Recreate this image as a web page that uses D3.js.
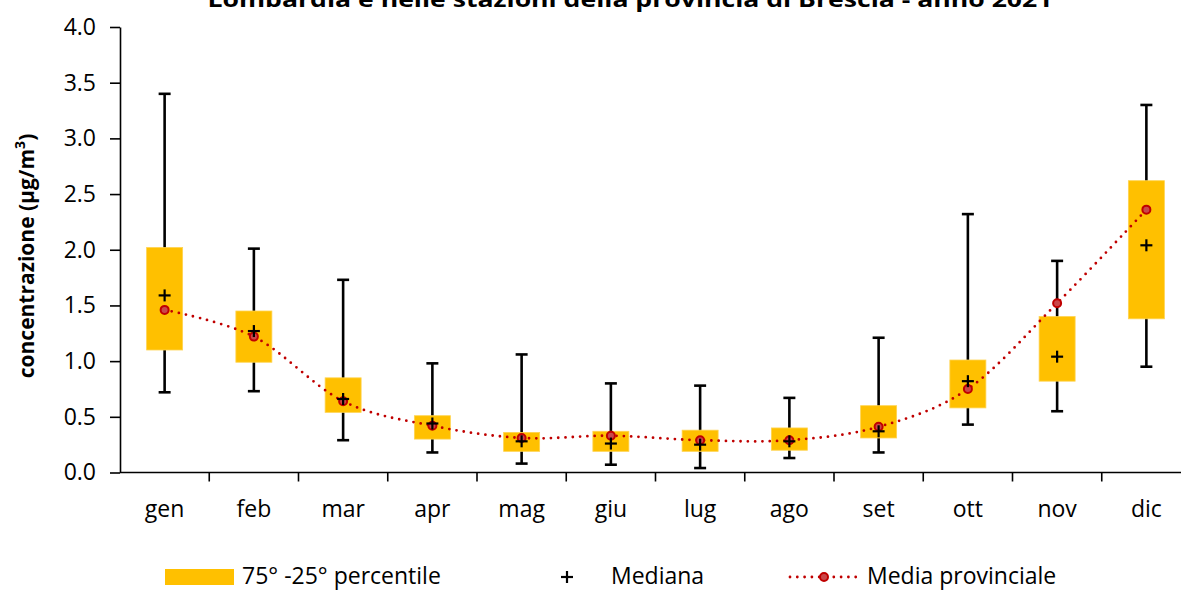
<!DOCTYPE html>
<html>
<head>
<meta charset="utf-8">
<script src="https://cdn.jsdelivr.net/npm/d3@7"></script>
<style>
  html, body { margin: 0; padding: 0; background: #fff; }
  svg { display: block; font-family: "Open Sans", "Noto Sans", sans-serif; }
</style>
</head>
<body>
<svg id="chart" width="1181" height="590"></svg>
<script>
// Monthly statistics of station concentrations (µg/m³)
const months = ["gen","feb","mar","apr","mag","giu","lug","ago","set","ott","nov","dic"];
const whiskerMax = [3.40, 2.01, 1.73, 0.98, 1.06, 0.80, 0.78, 0.67, 1.21, 2.32, 1.90, 3.30];
const pct75      = [2.02, 1.45, 0.85, 0.51, 0.36, 0.37, 0.38, 0.40, 0.60, 1.01, 1.40, 2.62];
const pct25      = [1.10, 0.99, 0.54, 0.30, 0.19, 0.19, 0.19, 0.20, 0.31, 0.58, 0.82, 1.38];
const whiskerMin = [0.72, 0.73, 0.29, 0.18, 0.08, 0.07, 0.04, 0.13, 0.18, 0.43, 0.55, 0.95];
const median     = [1.59, 1.27, 0.66, 0.44, 0.28, 0.26, 0.25, 0.28, 0.37, 0.82, 1.04, 2.04];
const meanProv   = [1.46, 1.22, 0.64, 0.42, 0.31, 0.33, 0.29, 0.29, 0.41, 0.75, 1.52, 2.36];
const yTicks = [0, 0.5, 1.0, 1.5, 2.0, 2.5, 3.0, 3.5, 4.0];

const titleText = "Lombardia e nelle stazioni della provincia di Brescia - anno 2021";
const legendLabels = ["75° -25° percentile", "Mediana", "Media provinciale"];

const BOX = "#FFC000", RED = "#C00000";

const svg = d3.select("#chart");

const x = d3.scaleBand().domain(months).range([120, 1191]).paddingInner(0).paddingOuter(0);
const y = d3.scaleLinear().domain([0, 4]).range([472.5, 27]);
const cx = m => x(m) + x.bandwidth() / 2;

const rows = months.map((m, i) => ({
  m, hi: whiskerMax[i], q3: pct75[i], q1: pct25[i], lo: whiskerMin[i],
  med: median[i], mean: meanProv[i]
}));

// title (second line of a two-line heading, running off the top edge)
svg.append("text")
  .attr("x", 630).attr("y", 7)
  .attr("text-anchor", "middle")
  .attr("font-weight", "bold").attr("font-size", 22)
  .attr("textLength", 845).attr("lengthAdjust", "spacingAndGlyphs")
  .attr("fill", "#000")
  .text(titleText);

// y axis
const yAxis = svg.append("g")
  .attr("transform", "translate(120,0)")
  .call(d3.axisLeft(y).tickValues(yTicks).tickFormat(d3.format(".1f"))
    .tickSize(10).tickSizeOuter(0).tickPadding(14));
yAxis.select(".domain").attr("stroke", "#000").attr("stroke-width", 1.6);
yAxis.selectAll(".tick line").attr("stroke", "#000").attr("stroke-width", 1.6);
yAxis.selectAll(".tick text")
  .attr("font-size", 23).attr("fill", "#000")
  .attr("font-family", "'Open Sans', sans-serif");

// x axis: line, boundary ticks and month labels
const xAxis = svg.append("g").attr("transform", `translate(0,${y(0)})`);
xAxis.append("line")
  .attr("x1", 120).attr("x2", 1191)
  .attr("stroke", "#000").attr("stroke-width", 1.6);
xAxis.selectAll("line.bound")
  .data(months.slice(1).concat(["end"]))
  .join("line").attr("class", "bound")
  .attr("x1", d => d === "end" ? x.range()[1] : x(d))
  .attr("x2", d => d === "end" ? x.range()[1] : x(d))
  .attr("y1", 0).attr("y2", 9)
  .attr("stroke", "#000").attr("stroke-width", 1.6);
xAxis.selectAll("text")
  .data(months).join("text")
  .attr("x", d => cx(d)).attr("y", 44)
  .attr("text-anchor", "middle")
  .attr("font-size", 23).attr("fill", "#000")
  .text(d => d);

// y axis title
const yTitle = svg.append("text")
  .attr("transform", "translate(34,256) rotate(-90)")
  .attr("text-anchor", "middle")
  .attr("font-weight", "bold").attr("font-size", 21)
  .attr("fill", "#000");
yTitle.append("tspan").text("concentrazione (µg/m");
yTitle.append("tspan").attr("baseline-shift", "super").attr("font-size", 14).text("3");
yTitle.append("tspan").text(")");

// whiskers
const boxW = 36, capW = 12;
const g = svg.append("g");
g.selectAll("line.whisker").data(rows).join("line").attr("class", "whisker")
  .attr("x1", d => cx(d.m)).attr("x2", d => cx(d.m))
  .attr("y1", d => y(d.hi)).attr("y2", d => y(d.lo))
  .attr("stroke", "#000").attr("stroke-width", 2.6);
g.selectAll("line.capHi").data(rows).join("line").attr("class", "capHi")
  .attr("x1", d => cx(d.m) - capW / 2).attr("x2", d => cx(d.m) + capW / 2)
  .attr("y1", d => y(d.hi)).attr("y2", d => y(d.hi))
  .attr("stroke", "#000").attr("stroke-width", 2.6);
g.selectAll("line.capLo").data(rows).join("line").attr("class", "capLo")
  .attr("x1", d => cx(d.m) - capW / 2).attr("x2", d => cx(d.m) + capW / 2)
  .attr("y1", d => y(d.lo)).attr("y2", d => y(d.lo))
  .attr("stroke", "#000").attr("stroke-width", 2.6);

// interquartile boxes
g.selectAll("rect.box").data(rows).join("rect").attr("class", "box")
  .attr("x", d => cx(d.m) - boxW / 2).attr("width", boxW)
  .attr("y", d => y(d.q3)).attr("height", d => y(d.q1) - y(d.q3))
  .attr("fill", BOX).attr("stroke", "#FFD34F").attr("stroke-width", 0.8);

// provincial mean: smoothed dotted line with circle markers
const line = d3.line().x(d => cx(d.m)).y(d => y(d.mean)).curve(d3.curveCatmullRom.alpha(0));
g.append("path").datum(rows)
  .attr("d", line)
  .attr("fill", "none").attr("stroke", RED).attr("stroke-width", 2.8)
  .attr("stroke-linecap", "round").attr("stroke-dasharray", "0 7.3");
g.selectAll("circle.mean").data(rows).join("circle").attr("class", "mean")
  .attr("cx", d => cx(d.m)).attr("cy", d => y(d.mean)).attr("r", 4)
  .attr("fill", "#C9484A").attr("stroke", RED).attr("stroke-width", 2);

// median crosses
const plus = 6;
const med = g.selectAll("g.med").data(rows).join("g").attr("class", "med")
  .attr("transform", d => `translate(${cx(d.m)},${y(d.med)})`);
med.append("line").attr("x1", -plus).attr("x2", plus).attr("stroke", "#000").attr("stroke-width", 2.2);
med.append("line").attr("y1", -plus).attr("y2", plus).attr("stroke", "#000").attr("stroke-width", 2.2);

// legend
const lg = svg.append("g");
lg.append("rect").attr("x", 165).attr("y", 569).attr("width", 69).attr("height", 16).attr("fill", BOX);
lg.append("text").attr("x", 242).attr("y", 584).attr("font-size", 23).attr("fill", "#000").text(legendLabels[0]);
lg.append("line").attr("x1", 561).attr("x2", 573).attr("y1", 577).attr("y2", 577).attr("stroke", "#000").attr("stroke-width", 2.2);
lg.append("line").attr("x1", 567).attr("x2", 567).attr("y1", 571).attr("y2", 583).attr("stroke", "#000").attr("stroke-width", 2.2);
lg.append("text").attr("x", 611).attr("y", 584).attr("font-size", 23).attr("fill", "#000").text(legendLabels[1]);
lg.append("line").attr("x1", 790).attr("x2", 856).attr("y1", 577).attr("y2", 577)
  .attr("stroke", RED).attr("stroke-width", 2.8).attr("stroke-linecap", "round").attr("stroke-dasharray", "0 7.3");
lg.append("circle").attr("cx", 824).attr("cy", 577).attr("r", 4)
  .attr("fill", "#C9484A").attr("stroke", RED).attr("stroke-width", 2);
lg.append("text").attr("x", 867).attr("y", 584).attr("font-size", 23).attr("fill", "#000").text(legendLabels[2]);
</script>
</body>
</html>
